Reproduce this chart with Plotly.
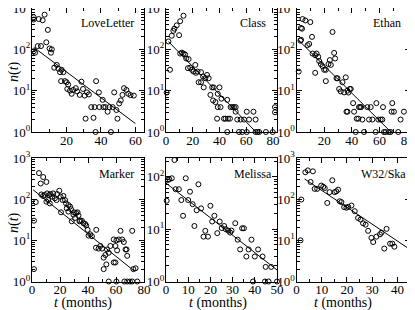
import plotly.graph_objects as go

# ---------------- data ----------------
panel_names = ["LoveLetter", "Class", "Ethan", "Marker", "Melissa", "W32/Ska"]

loveletter_pts = [(1.0, 600), (1.0, 525), (3.9, 540), (6.2, 505), (7.3, 690), (9.2, 295),
                  (1.0, 90), (1.8, 83), (3.3, 120), (5.2, 120), (8.3, 148), (10.2, 105),
                  (11.5, 100), (11.0, 83), (12.9, 36), (14.4, 42), (15.3, 34), (16.3, 28),
                  (17.2, 32), (18.2, 28), (16.9, 17), (19.1, 17), (20.1, 16), (21.0, 14),
                  (20.5, 11), (22.0, 10), (23.0, 8.4), (23.9, 10.4), (25.4, 11.5), (26.2, 9.6),
                  (27.7, 7.9), (28.7, 16.5), (29.6, 11), (30.6, 7.6), (31.9, 9.1), (33.0, 8.1),
                  (31.1, 2.1), (34.4, 4), (36.3, 4), (37.2, 17), (38.8, 9.1), (39.1, 4),
                  (41.0, 6), (41.4, 4), (42.6, 4), (43.9, 3.1), (44.9, 4), (46.8, 4),
                  (47.7, 9.1), (49.0, 3.4), (49.6, 2.1), (50.6, 4.9), (51.5, 5.8), (52.5, 7.9),
                  (53.4, 11.5), (54.8, 10.4), (55.9, 8.4), (57.2, 7.8), (59.1, 7.6), (35.7, 2.2),
                  (36.9, 1), (45.8, 1)]

class_pts = [(0.5, 9), (1.8, 155), (3.0, 32), (4.3, 213), (5.5, 280), (6.3, 316), (8.0, 380),
             (9.8, 220), (10.6, 480), (13.1, 650), (10.6, 79), (11.8, 83), (13.1, 79), (14.3, 75),
             (15.1, 60), (16.9, 58), (16.4, 35), (18.1, 36), (19.4, 32), (20.6, 29), (21.9, 42),
             (22.4, 27), (23.6, 29), (24.4, 16), (26.2, 16), (26.2, 28), (27.7, 22), (28.2, 12),
             (29.4, 20), (30.7, 24), (31.9, 20), (33.2, 7.9), (34.5, 12), (35.7, 12), (35.2, 5.8),
             (37.0, 5.3), (38.7, 8.4), (38.7, 4), (40.0, 12), (41.5, 6.4), (40.8, 4), (38.2, 2.1),
             (43.3, 2.1), (44.5, 2.1), (46.3, 2.1), (47.8, 2.1), (45.8, 6), (48.3, 4), (49.6, 4),
             (50.8, 4), (52.1, 4), (52.1, 3.1), (53.3, 2), (55.8, 2), (58.4, 2), (60.4, 3.1),
             (62.1, 2), (65.4, 3.1), (67.0, 2), (45.8, 1), (54.6, 1), (57.0, 1), (60.4, 1),
             (67.0, 1), (68.4, 1), (69.7, 1), (74.7, 1), (79.8, 1), (81.5, 4), (81.5, 3)]

ethan_pts = [(1.6, 29), (3.2, 330), (4.4, 540), (6.4, 500), (10.0, 455), (4.0, 316), (11.2, 200),
             (2.8, 162), (3.3, 170), (8.0, 126), (9.2, 135), (11.6, 79), (13.5, 72), (14.5, 79),
             (15.7, 66), (13.5, 27), (16.4, 52), (17.6, 44), (18.8, 39), (20.0, 32), (21.2, 32),
             (21.2, 17), (23.1, 44), (24.1, 55), (24.8, 42), (26.0, 263), (27.2, 82), (27.9, 60),
             (28.9, 20), (29.6, 20), (30.8, 11), (32.0, 9.6), (33.2, 16), (34.4, 9.1), (35.6, 21),
             (36.8, 10), (37.5, 9), (38.5, 11), (39.2, 11), (36.1, 3.1), (36.8, 3.1), (40.9, 5),
             (41.6, 3.1), (42.8, 1), (43.5, 2.1), (44.7, 2.1), (45.2, 4), (46.0, 4), (46.7, 4),
             (47.6, 2), (48.8, 1), (51.2, 4), (53.6, 4), (52.4, 2), (54.8, 2), (57.7, 5),
             (59.1, 2), (60.8, 2), (62.0, 2), (62.5, 4), (57.2, 1), (63.2, 1), (64.4, 1),
             (66.8, 1), (68.0, 1), (69.2, 5), (68.7, 3.1), (70.4, 3.1), (73.5, 1), (75.2, 2),
             (77.6, 3.1)]

marker_pts = [(5.0, 430), (8.0, 345), (6.2, 240), (10.3, 262), (2.7, 85), (1.4, 30), (1.4, 2),
              (7.9, 120), (9.1, 126), (10.8, 138), (12.3, 126), (13.2, 133), (14.4, 115),
              (15.1, 138), (16.3, 105), (17.5, 95), (18.0, 133), (19.5, 160), (20.4, 115),
              (21.9, 95), (22.4, 120), (23.6, 95), (24.3, 79), (26.0, 72), (11.5, 95), (10.3, 87),
              (12.7, 79), (6.7, 130), (20.7, 48), (24.8, 60), (26.0, 50), (27.2, 66), (27.9, 57),
              (29.6, 42), (30.0, 48), (31.5, 46), (32.5, 48), (33.2, 40), (33.9, 29), (34.4, 30),
              (35.6, 30), (36.8, 26), (38.0, 25), (38.7, 23), (30.8, 35), (28.4, 29), (39.7, 18),
              (41.6, 14), (42.8, 12.6), (40.4, 13), (45.7, 6.6), (47.6, 6.3), (48.8, 7.3),
              (50.0, 6.3), (45.9, 18), (51.2, 3.8), (52.4, 4.4), (53.6, 6), (54.8, 5), (56.0, 7.3),
              (53.1, 2.6), (51.2, 2), (58.4, 10.5), (60.3, 10), (59.6, 7.3), (60.8, 5.7),
              (62.0, 10.5), (58.4, 2.9), (59.6, 2.9), (63.2, 17), (64.4, 10.5), (65.6, 9.1),
              (66.8, 6), (67.5, 6), (68.0, 4.2), (71.6, 17), (72.4, 2), (74.0, 2.1), (54.8, 1),
              (60.3, 1), (66.0, 1), (68.0, 1), (69.9, 1), (71.6, 1), (75.2, 1)]

melissa_pts = [(0.3, 35), (0.8, 87), (1.5, 90), (2.6, 94), (3.8, 210), (4.3, 58), (5.8, 58),
               (6.9, 36), (7.7, 18), (8.9, 94), (10.0, 36), (10.8, 52), (12.0, 30), (12.8, 11.5),
               (13.8, 23), (14.6, 72), (15.8, 25), (16.9, 7.2), (17.7, 9.3), (18.9, 7.2),
               (20.0, 28), (20.8, 14), (21.8, 18), (23.1, 8.4), (24.2, 14), (25.1, 10.5),
               (26.2, 11.5), (26.9, 10), (28.0, 9.4), (28.9, 8.6), (29.5, 9.4), (31.2, 13),
               (32.3, 6.3), (33.4, 4.1), (34.3, 10.4), (35.1, 10.4), (36.2, 3), (37.2, 4.1),
               (38.5, 6.3), (40.0, 3), (41.5, 4.1), (43.5, 3), (44.9, 1.9), (47.4, 1.9),
               (39.2, 1), (44.6, 1), (46.2, 1), (50.0, 1)]

w32_pts = [(1.9, 98), (1.6, 10), (3.5, 450), (4.5, 500), (6.5, 475), (5.6, 262), (7.2, 178),
           (8.2, 178), (9.8, 214), (11.2, 186), (10.6, 200), (12.2, 81), (13.1, 148), (14.2, 288),
           (15.1, 148), (15.8, 155), (16.5, 170), (17.1, 89), (17.8, 85), (18.9, 64), (19.8, 62),
           (20.5, 65), (21.8, 70), (23.1, 51), (24.4, 35), (25.4, 32), (26.4, 26), (27.4, 24),
           (28.4, 17), (29.7, 11.5), (30.4, 9.1), (31.7, 12.3), (33.1, 14), (33.7, 15.4),
           (34.8, 6.3), (35.7, 19), (37.1, 8.3), (38.0, 8.3), (38.8, 7)]

# fitted lines: two end points each (t, n)
fit_lines = {
    "LoveLetter": [(1.0, 112), (60.0, 1.6)],
    "Class": [(1.8, 155), (67.5, 0.98)],
    "Ethan": [(1.6, 165), (68.5, 0.98)],
    "Marker": [(0.7, 170), (73.0, 1.8)],
    "Melissa": [(0.0, 76), (50.0, 1.66)],
    "W32/Ska": [(3.2, 310), (45.0, 6.0)],
}

x_ranges = {"LoveLetter": [0, 65], "Class": [0, 83], "Ethan": [0, 82],
            "Marker": [0, 80], "Melissa": [0, 50], "W32/Ska": [0, 45]}
x_ticks = {"LoveLetter": [20, 40, 60], "Class": [0, 20, 40, 60, 80], "Ethan": [20, 40, 60, 80],
           "Marker": [0, 20, 40, 60, 80], "Melissa": [0, 10, 20, 30, 40, 50],
           "W32/Ska": [0, 10, 20, 30, 40]}
x_minor = {"LoveLetter": [10, 30, 50], "Class": [10, 30, 50, 70], "Ethan": [10, 30, 50, 70],
           "Marker": [10, 30, 50, 70], "Melissa": [5, 15, 25, 35, 45],
           "W32/Ska": [5, 15, 25, 35]}
y_top = {"LoveLetter": 3, "Class": 3, "Ethan": 3, "Marker": 3, "Melissa": 2.36, "W32/Ska": 3}

y_tickvals = [1, 10, 100, 1000]
y_ticktext = ["10<sup>0</sup>", "10<sup>1</sup>", "10<sup>2</sup>", "10<sup>3</sup>"]
y_minor = [k * 10 ** d for d in range(3) for k in range(2, 10)]

points = {"LoveLetter": loveletter_pts, "Class": class_pts, "Ethan": ethan_pts,
          "Marker": marker_pts, "Melissa": melissa_pts, "W32/Ska": w32_pts}

# ---------------- layout geometry (screen pixels) ----------------
# the page body has an 8px margin, so the figure starts at (8, 8) on screen
OFF = 8
W, H = 415 - OFF, 310 - OFF
col_px = [(32, 144), (166, 277), (296.5, 410)]
row_px = [(8, 132), (158, 281.5)]
label_right_px = {"LoveLetter": 136, "Class": 268, "Ethan": 403,
                  "Marker": 136, "Melissa": 274, "W32/Ska": 408}
label_y_px = [23.5, 174]


def fx(px):
    return (px - OFF) / W


def fy(py):
    return 1 - (py - OFF) / H


FONT = "Liberation Serif, Times New Roman, serif"

fig = go.Figure()
layout = dict(width=W, height=H, margin=dict(l=0, r=0, t=0, b=0, autoexpand=False),
              paper_bgcolor="white", plot_bgcolor="white", showlegend=False,
              font=dict(family=FONT, size=12, color="black"))
annotations = []

for i, name in enumerate(panel_names):
    r, c = divmod(i, 3)
    idx = "" if i == 0 else str(i + 1)
    xa, ya = "x" + idx, "y" + idx
    x0, x1 = col_px[c]
    y0, y1 = row_px[r]
    pts = points[name]
    fig.add_trace(go.Scatter(
        x=[p[0] for p in pts], y=[p[1] for p in pts], mode="markers",
        marker=dict(symbol="circle-open", size=5, color="black", line=dict(width=1, color="black")),
        xaxis=xa, yaxis=ya, cliponaxis=False, hoverinfo="skip"))
    fl = fit_lines[name]
    fig.add_trace(go.Scatter(
        x=[p[0] for p in fl], y=[p[1] for p in fl], mode="lines",
        line=dict(color="black", width=1), xaxis=xa, yaxis=ya, hoverinfo="skip"))

    common = dict(showline=True, linecolor="black", linewidth=1, mirror="allticks",
                  ticks="inside", ticklen=5, tickcolor="black", tickwidth=1,
                  showgrid=False, zeroline=False, automargin=False,
                  ticklabeloverflow="allow")
    layout["xaxis" + idx] = dict(
        common, domain=[max(fx(x0), 0), min(fx(x1), 1)], anchor=ya, range=x_ranges[name],
        tickmode="array", tickvals=x_ticks[name], ticktext=[str(v) for v in x_ticks[name]],
        ticklabelstandoff=-4, tickfont=dict(family=FONT, size=13, color="black"),
        minor=dict(ticks="inside", ticklen=3, tickcolor="black", tickvals=x_minor[name]))
    layout["yaxis" + idx] = dict(
        common, domain=[max(fy(y1), 0), min(fy(y0), 1)], anchor=xa, type="log",
        range=[0, y_top[name]], tickmode="array", tickvals=y_tickvals, ticktext=y_ticktext,
        ticklabelstandoff=-2, tickfont=dict(family=FONT, size=13, color="black"),
        minor=dict(ticks="inside", ticklen=3, tickcolor="black", tickvals=y_minor))

    annotations.append(dict(text=name, xref="paper", yref="paper",
                            x=fx(label_right_px[name]), y=fy(label_y_px[r]),
                            xanchor="right", yanchor="middle", showarrow=False,
                            font=dict(family=FONT, size=12, color="black")))

# axis titles
for yc in [72, 223]:
    annotations.append(dict(text="<i>n</i>(<i>t</i>)", xref="paper", yref="paper",
                            x=fx(14), y=fy(yc), textangle=-90, showarrow=False,
                            xanchor="center", yanchor="middle",
                            font=dict(family=FONT, size=14, color="black")))
for xc in [83, 218, 343]:
    annotations.append(dict(text="<i>t</i> (months)", xref="paper", yref="paper",
                            x=fx(xc), y=fy(303), showarrow=False,
                            xanchor="center", yanchor="middle",
                            font=dict(family=FONT, size=14, color="black")))

layout["annotations"] = annotations
fig.update_layout(**layout)
fig.write_html("out.html")
